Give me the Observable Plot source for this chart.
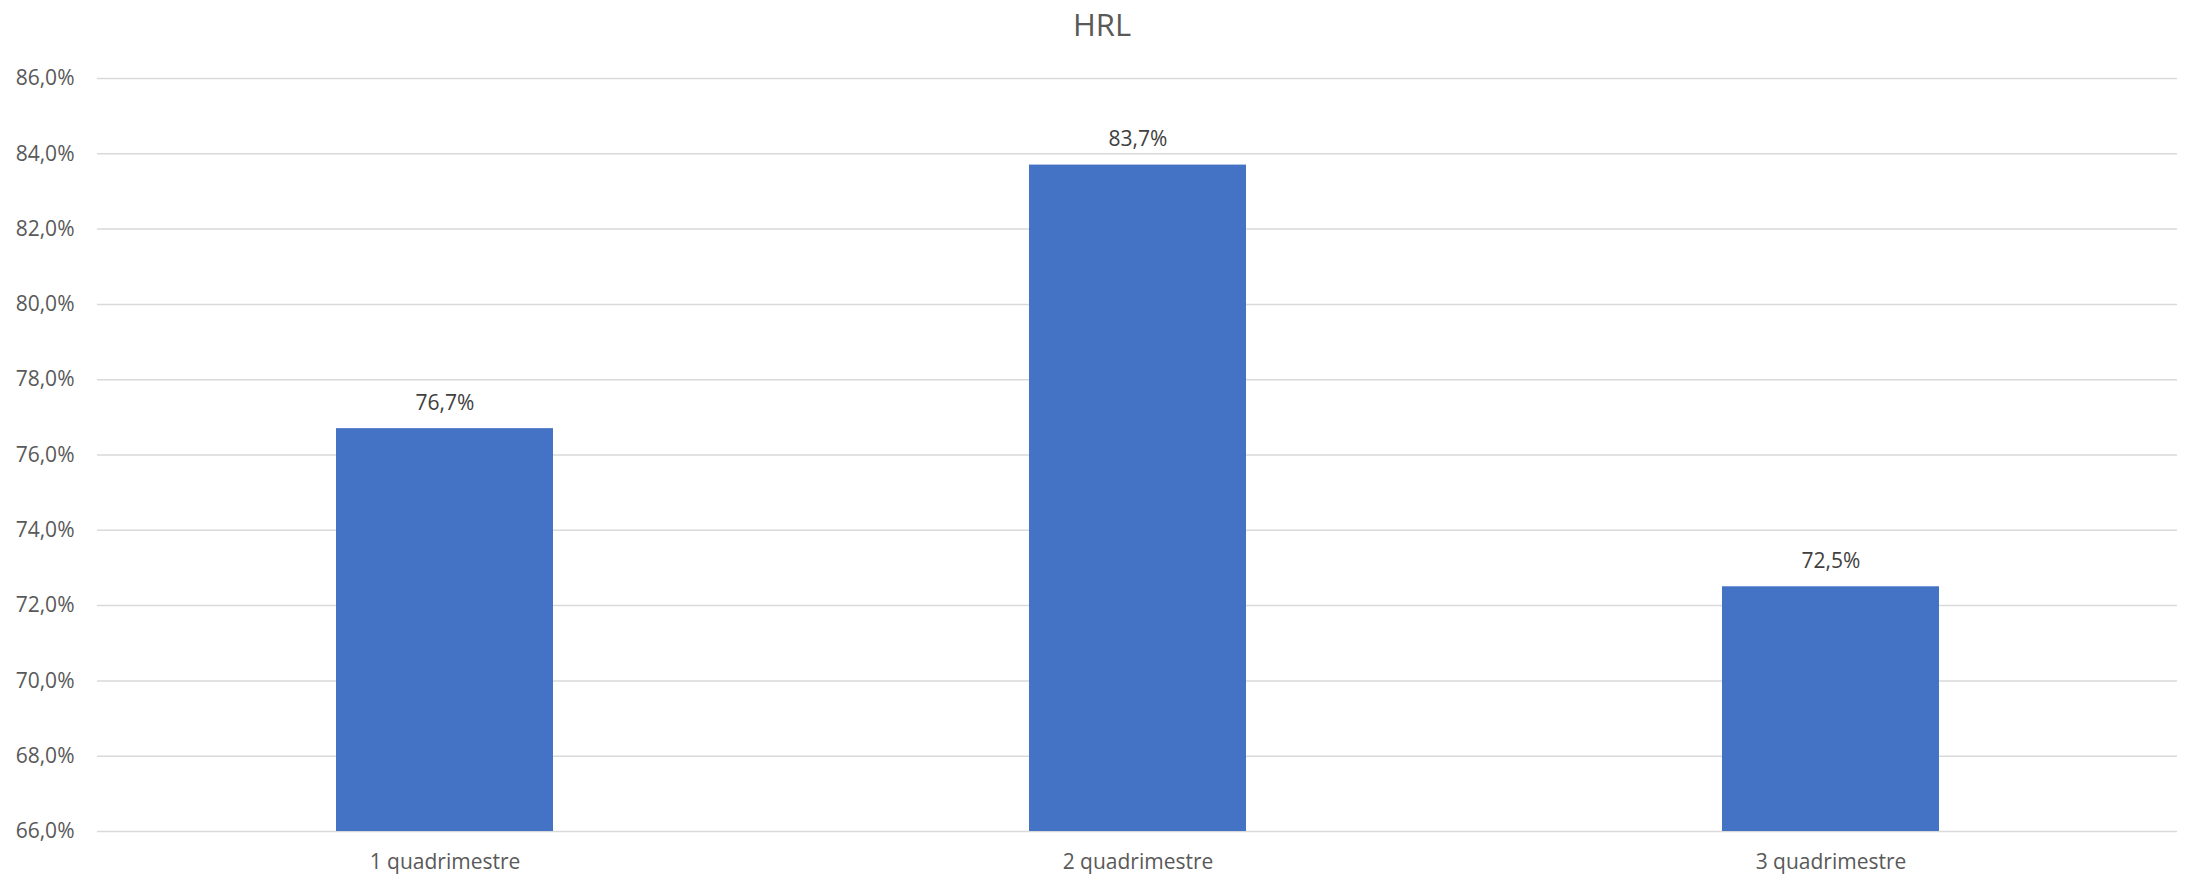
<!DOCTYPE html>
<html>
<head>
<meta charset="utf-8">
<script src="https://cdn.jsdelivr.net/npm/d3@7"></script>
<script src="https://cdn.jsdelivr.net/npm/@observablehq/plot@0.6"></script>
<style>
  html, body { margin: 0; padding: 0; background: #fff; }
  #wrap { width: 2188px; height: 876px; position: relative; font-family: "Open Sans", "Noto Sans", sans-serif; }
  #title { height: 50px; width: 2188px; text-align: center; font-size: 31px; color: #595959; line-height: 48px; padding-left: 16px; box-sizing: border-box; }
  svg { display: block; }
</style>
</head>
<body>
<div id="wrap">
  <div id="title">HRL</div>
  <div id="chart"></div>
</div>
<script>
const categories = ["1 quadrimestre", "2 quadrimestre", "3 quadrimestre"];
const values = [76.7, 83.7, 72.5];
const yTicks = [66, 68, 70, 72, 74, 76, 78, 80, 82, 84, 86];
const yMin = 66, yMax = 86;

const data = categories.map((c, i) => ({ cat: c, value: values[i] }));
const fmt = d => d.toFixed(1).replace(".", ",") + "%";

const plot = Plot.plot({
  width: 2188,
  height: 826,
  marginTop: 28,
  marginBottom: 45,
  marginLeft: 97,
  marginRight: 11,
  style: { fontFamily: "'Open Sans', 'Noto Sans', sans-serif", fontSize: "21px", color: "#595959", background: "#fff" },
  x: { domain: categories, paddingInner: 0.687, paddingOuter: 0.3435, label: null },
  y: { domain: [yMin, yMax], label: null },
  marks: [
    Plot.ruleY(yTicks, { stroke: "#d9d9d9", strokeWidth: 1.5 }),
    Plot.barY(data, { x: "cat", y1: () => yMin, y2: "value", fill: "#4472c4" }),
    Plot.text(data, { x: "cat", y: "value", text: d => fmt(d.value), lineAnchor: "bottom", dy: -19, fill: "#404040", fontSize: 21 }),
    Plot.axisY({ ticks: yTicks, tickFormat: fmt, tickSize: 0, tickPadding: 23, fontSize: 21, fill: "#595959" }),
    Plot.axisX({ tickSize: 0, tickPadding: 23, fontSize: 21, fill: "#595959" })
  ]
});
document.getElementById("chart").appendChild(plot);
</script>
</body>
</html>
